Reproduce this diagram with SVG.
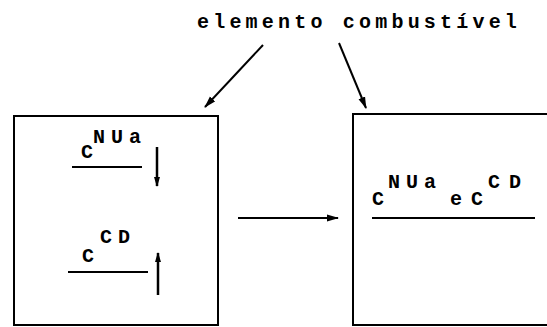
<svg xmlns="http://www.w3.org/2000/svg" width="547" height="327" viewBox="0 0 547 327">
<style>
.box{fill:none;stroke:#000;stroke-width:2}
.ln{stroke:#000;stroke-width:2;fill:none}
.va{stroke:#000;stroke-width:2.5;fill:none}
.t{font-family:"Liberation Mono",monospace;font-weight:bold;font-size:20px;fill:#000}
.sup{letter-spacing:6px}
.sup2{letter-spacing:9px}
.title{font-family:"Liberation Mono",monospace;font-weight:bold;font-size:20px;letter-spacing:4.2px;fill:#000}
</style>
<defs>
<marker id="ah" viewBox="0 0 12 8" refX="11" refY="4" markerWidth="12" markerHeight="8" markerUnits="userSpaceOnUse" orient="auto">
<path d="M0,0.5 L12,4 L0,7.5 Z" fill="#000"/>
</marker>
<marker id="sh" viewBox="0 0 10 6" refX="9" refY="3" markerWidth="10" markerHeight="6" markerUnits="userSpaceOnUse" orient="auto">
<path d="M0,0 L10,3 L0,6 Z" fill="#000"/>
</marker>
</defs>
<g id="title">
<text class="title" x="197" y="28">elemento combustível</text>
</g>
<g id="box-left">
<rect class="box" x="14" y="116" width="204" height="209"/>
<text class="t" x="81" y="158">C</text>
<text class="t sup" x="93" y="143">NUa</text>
<line class="ln" x1="72" y1="167" x2="142" y2="167"/>
<line class="va" x1="157" y1="147" x2="157" y2="186" marker-end="url(#sh)"/>
<text class="t" x="82" y="262">C</text>
<text class="t sup" x="100" y="243">CD</text>
<line class="ln" x1="68" y1="272" x2="148" y2="272"/>
<line class="va" x1="158" y1="295" x2="158" y2="253" marker-end="url(#sh)"/>
</g>
<g id="box-right">
<rect class="box" x="353" y="114" width="210" height="211"/>
<text class="t" x="372" y="205">C</text>
<text class="t sup" x="388" y="188">NUa</text>
<text class="t" x="450" y="205">e</text>
<text class="t" x="471" y="205">C</text>
<text class="t sup2" x="488" y="188">CD</text>
<line class="ln" x1="372" y1="218" x2="535" y2="218"/>
</g>
<g id="connectors">
<line class="ln" x1="263" y1="45" x2="205" y2="107" marker-end="url(#ah)"/>
<line class="ln" x1="339" y1="43" x2="366" y2="108" marker-end="url(#ah)"/>
<line class="ln" x1="238" y1="218" x2="338" y2="218" marker-end="url(#ah)"/>
</g>
</svg>
